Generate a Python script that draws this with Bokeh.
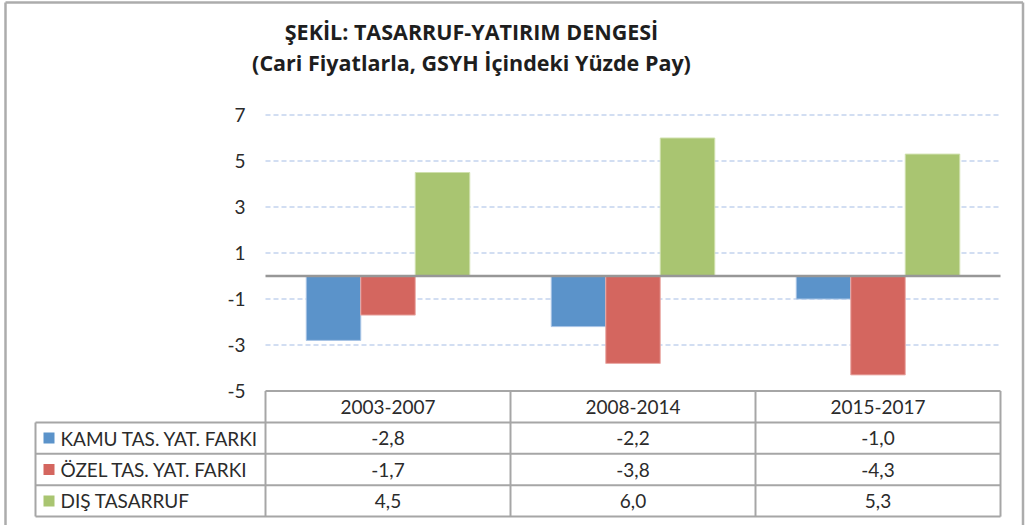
import numpy as np
from bokeh.plotting import figure
from bokeh.models import Range1d, FixedTicker, PrintfTickFormatter
from bokeh.core.properties import value
from bokeh.embed import file_html
from bokeh.resources import INLINE

# ---------------- data ----------------
periods = ["2003-2007", "2008-2014", "2015-2017"]
series_names = ["KAMU TAS. YAT. FARKI", "ÖZEL TAS. YAT. FARKI", "DIŞ TASARRUF"]
kamu = [-2.8, -2.2, -1.0]
ozel = [-1.7, -3.8, -4.3]
dis = [4.5, 6.0, 5.3]
y_ticks = [-5, -3, -1, 1, 3, 5, 7]
title_lines = ["ŞEKİL: TASARRUF-YATIRIM DENGESİ", "(Cari Fiyatlarla, GSYH İçindeki Yüzde Pay)"]

# ---------------- styling / layout ----------------
colors = ["#5b93ca", "#d4665f", "#a9c571"]
edge_colors = ["#a8c4e6", "#eaaaa6", "#cfe0ad"]
FONT = "Lato"
TITLE_FONT = "Open Sans"
TXT = "#2b2b2b"
GRID_C = "#c3d3ee"
TABLE_C = "#a6a6a6"
BORDER_C = "#acacac"

W, H = 1026, 525
PX_X = 245.0          # pixels per category column
PX_Y = 23.0           # pixels per y unit
X0_PX = 265.0         # canvas x of the chart's left edge (x = 0)
Y0_PX = 275.5         # canvas y of the value 0


def dx(px):
    return (px - X0_PX) / PX_X


def dy(py):
    return (Y0_PX - py) / PX_Y


x_start, x_end = dx(0), dx(W)
y_end, y_start = dy(0), dy(H)

ymin = min(y_ticks)
row_h = 31.4 / PX_Y
label_col = (X0_PX - 35) / PX_X
bar_w = 54.5 / PX_X

p = figure(width=W, height=H, output_backend="svg", toolbar_location=None,
           x_range=Range1d(x_start, x_end), y_range=Range1d(y_start, y_end),
           min_border=0, min_border_left=0, min_border_right=0,
           min_border_top=0, min_border_bottom=0)
p.outline_line_color = None
p.xaxis.visible = False
p.grid.visible = False
p.background_fill_color = "white"
p.border_fill_color = "white"

# y axis at x = 0
yax = p.yaxis[0]
yax.fixed_location = 0
yax.ticker = FixedTicker(ticks=y_ticks)
yax.formatter = PrintfTickFormatter(format="%d")
yax.axis_line_color = None
yax.major_tick_line_color = None
yax.minor_tick_line_color = None
yax.major_tick_in = 0
yax.major_tick_out = 0
yax.major_label_standoff = 20
yax.major_label_text_font = FONT
yax.major_label_text_font_size = "19px"
yax.major_label_text_color = TXT

ncat = len(periods)
centers = np.arange(ncat) + 0.5

# outer frame of the picture
p.segment(x0=[dx(5), dx(5), dx(1022.5)], x1=[dx(1022.5), dx(5), dx(1022.5)],
          y0=[dy(2), dy(2), dy(2)], y1=[dy(2), dy(H), dy(H)],
          line_color=BORDER_C, line_width=2.5)

# gridlines (dashed) for the ticks above the table
gy = [t for t in y_ticks if t != ymin]
p.segment(x0=[0] * len(gy), x1=[ncat] * len(gy), y0=gy, y1=gy,
          line_color=GRID_C, line_width=1.3, line_dash="5 3")

# bars
all_series = [kamu, ozel, dis]
offsets = [-bar_w, 0.0, bar_w]
for vals, off, c, ec in zip(all_series, offsets, colors, edge_colors):
    p.vbar(x=centers + off, top=vals, bottom=0, width=bar_w,
           fill_color=c, line_color=ec, line_width=1)

# zero line
p.segment(x0=[0], x1=[ncat], y0=[0], y1=[0], line_color="#979797", line_width=2.6)

# ---------------- data table ----------------
ytop = ymin
row_lines = [ytop - k * row_h for k in range(len(series_names) + 2)]
hx0 = [0] + [-label_col] * (len(row_lines) - 1)
p.segment(x0=hx0, x1=[ncat] * len(row_lines), y0=row_lines, y1=row_lines,
          line_color=TABLE_C, line_width=2)
vx = list(range(ncat + 1))
p.segment(x0=vx, x1=vx, y0=[ytop] * len(vx), y1=[row_lines[-1]] * len(vx),
          line_color=TABLE_C, line_width=2)
p.segment(x0=[-label_col], x1=[-label_col], y0=[row_lines[1]], y1=[row_lines[-1]],
          line_color=TABLE_C, line_width=2)

# header
p.text(x=centers, y=[ytop - row_h / 2] * ncat, text=periods,
       text_font=value(FONT), text_font_size="19px", text_color=TXT,
       text_align="center", text_baseline="middle")

# rows
for i, (name, vals, c) in enumerate(zip(series_names, all_series, colors)):
    yc = ytop - (i + 1.5) * row_h
    p.text(x=centers, y=[yc] * ncat,
           text=[f"{v:.1f}".replace(".", ",") for v in vals],
           text_font=value(FONT), text_font_size="19px", text_color=TXT,
           text_align="center", text_baseline="middle")
    p.scatter(x=[-label_col + 13.5 / PX_X], y=[yc], marker="square", size=11,
              fill_color=c, line_color=None)
    p.text(x=[-label_col + 25 / PX_X], y=[yc], text=[name],
           text_font=value(FONT), text_font_size="19px", text_color=TXT,
           text_align="left", text_baseline="middle")

# title
tx = dx(471)
p.text(x=[tx, tx], y=[dy(31), dy(62)], text=title_lines,
       text_font=value(TITLE_FONT), text_font_size="21.5px", text_font_style="bold",
       text_color="#1e1e1e", text_align="center", text_baseline="middle")

open("out.html", "w").write(file_html(p, INLINE))
